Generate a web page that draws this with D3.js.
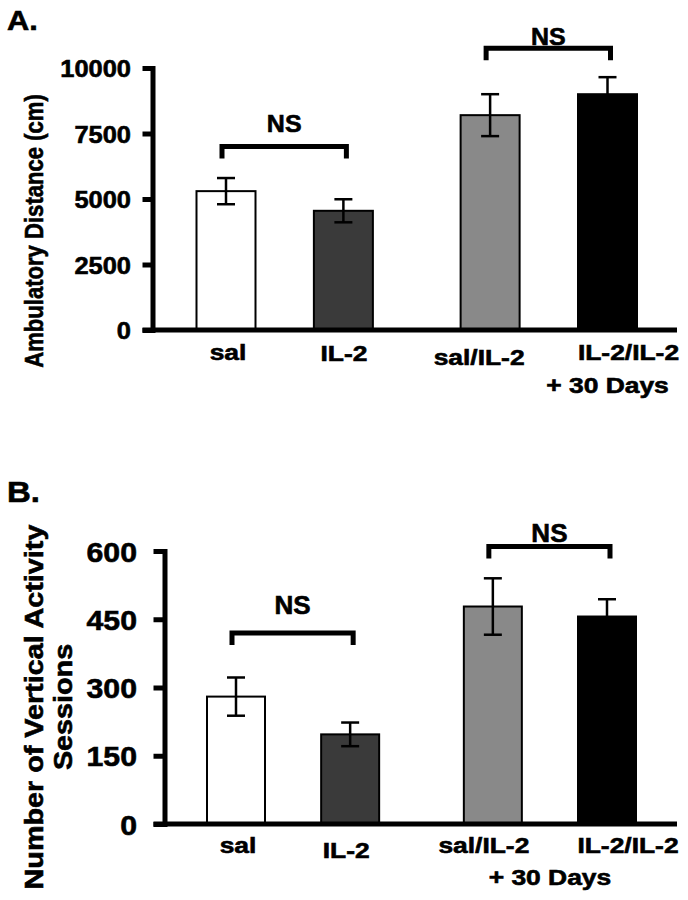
<!DOCTYPE html>
<html>
<head>
<meta charset="utf-8">
<script src="https://cdn.jsdelivr.net/npm/d3@7"></script>
<style>
  body { margin: 0; background: #fff; }
  text { font-family: "Liberation Sans", Arial, sans-serif; font-weight: bold; fill: #000; stroke: #000; stroke-width: 0.6px; }
</style>
</head>
<body>
<div class="chart"></div>
<script>
// datos
var categories = ["sal", "IL-2", "sal/IL-2", "IL-2/IL-2"];
var groupOf = [0, 0, 1, 1];           // dos bloques de barras
var nsPairs = [[0, 1], [2, 3]];

// A. distancia ambulatoria (cm)
var distanceMean = [5300, 4550, 8200, 9000];
var distanceErr  = [500, 440, 800, 650];
var distanceTicks = [0, 2500, 5000, 7500, 10000];
var distanceNS = [7000, 10750];       // altura de los corchetes NS

// B. sesiones de actividad vertical
var sessionsMean = [280, 197, 478, 456];
var sessionsErr  = [42, 26, 62, 38];
var sessionsTicks = [0, 150, 300, 450, 600];
var sessionsNS = [420, 610];

var color = d3.scaleOrdinal(categories, ["#ffffff", "#3a3a3a", "#898989", "#000000"]);
var gapExtra = 0.25;  // hueco extra entre los dos bloques

var svg = d3.select(".chart")
    .append("svg")
    .attr("width", 688)
    .attr("height", 900);

svg.append("rect").attr("width", 688).attr("height", 900).attr("fill", "#fff");

// texto ensanchado horizontalmente (la figura usa una negrita ancha)
function wideText(g, x, y, str, size, sx, anchor, rot) {
    return g.append("text")
        .attr("transform", "translate(" + x + "," + y + ")" + (rot ? " rotate(-90)" : "") + " scale(" + sx + ",1)")
        .attr("text-anchor", anchor || "middle")
        .attr("font-size", size)
        .text(str);
}

function drawPanel(p) {
    var g = svg.append("g");

    var y = d3.scaleLinear().domain([0, p.max]).range([p.base, p.top]);
    var slot = d3.scaleLinear().domain([0, 3 + gapExtra]).range([p.first, p.last]);
    var cx = function(i) { return slot(i + groupOf[i] * gapExtra); };

    // barras
    g.selectAll(".bar")
        .data(p.means)
      .enter()
        .append("rect")
        .attr("class", "bar")
        .attr("x", function(d, i) { return cx(i) - p.barW / 2; })
        .attr("y", function(d) { return y(d); })
        .attr("width", p.barW)
        .attr("height", function(d) { return y(0) - y(d); })
        .attr("fill", function(d, i) { return color(categories[i]); })
        .attr("stroke", "#000")
        .attr("stroke-width", 2);

    // barras de error
    var eb = g.selectAll(".err")
        .data(p.means)
      .enter()
        .append("g")
        .attr("class", "err")
        .attr("stroke", "#000")
        .attr("stroke-width", 2.5);
    eb.append("line")
        .attr("x1", function(d, i) { return cx(i); })
        .attr("x2", function(d, i) { return cx(i); })
        .attr("y1", function(d, i) { return y(d + p.errs[i]); })
        .attr("y2", function(d, i) { return y(d - p.errs[i]); });
    [1, -1].forEach(function(s) {
        eb.append("line")
            .attr("x1", function(d, i) { return cx(i) - 9; })
            .attr("x2", function(d, i) { return cx(i) + 9; })
            .attr("y1", function(d, i) { return y(d + s * p.errs[i]); })
            .attr("y2", function(d, i) { return y(d + s * p.errs[i]); });
    });

    // eje y
    var yAxis = d3.axisLeft(y)
        .tickValues(p.ticks)
        .tickSize(p.tickLen)
        .tickSizeOuter(0)
        .tickFormat(d3.format("d"));
    var ag = g.append("g")
        .attr("class", "y axis")
        .attr("transform", "translate(" + p.axisX + ",0)")
        .call(yAxis)
        .attr("font-family", null)
        .attr("font-size", null);
    ag.select(".domain").attr("stroke-width", 5).attr("stroke-linecap", "square");
    ag.selectAll(".tick line").attr("stroke-width", 5);
    ag.selectAll(".tick text")
        .attr("x", null)
        .attr("dy", "0.36em")
        .attr("font-size", p.tickFont)
        .attr("text-anchor", "end")
        .attr("transform", "translate(" + (-p.labelGap) + ",0) scale(" + p.tickSx + ",1)");

    // línea base
    g.append("line")
        .attr("x1", p.axisX - p.tickLen)
        .attr("x2", 677)
        .attr("y1", y(0))
        .attr("y2", y(0))
        .attr("stroke", "#000")
        .attr("stroke-width", 5);

    // etiquetas del eje x
    categories.forEach(function(c, i) {
        wideText(g, cx(i) + p.catShift[i], p.catY[i], c, 22, 1.2);
    });
    var dx = p.daysUnderPair ? (cx(2) + cx(3)) / 2 : cx(3);
    wideText(g, dx, p.daysY, "+ 30 Days", 22, 1.2);

    // corchetes NS
    nsPairs.forEach(function(pair, k) {
        var x1 = cx(pair[0]) - 4, x2 = cx(pair[1]) + 3;
        var yy = y(p.ns[k]);
        g.append("path")
            .attr("d", "M" + x1 + "," + (yy + 12) + "V" + yy + "H" + x2 + "V" + (yy + 12))
            .attr("fill", "none")
            .attr("stroke", "#000")
            .attr("stroke-width", 5);
        wideText(g, (x1 + x2) / 2, yy - p.nsGap[k], "NS", p.nsFont, 1.04);
    });

    // título del eje y y letra del panel
    p.title.forEach(function(t, k) {
        wideText(g, p.titleX[k], p.titleY, t, p.titleFont, p.titleSx, "middle", true);
    });
    wideText(g, 7, p.letterY, p.letter, p.letterFont, 1.1, "start");
}

drawPanel({
    letter: "A.", letterY: 30, letterFont: 28,
    means: distanceMean, errs: distanceErr, ticks: distanceTicks, ns: distanceNS,
    max: 10000, base: 330, top: 68, first: 226, last: 607.5, barW: 59,
    axisX: 152.5, tickLen: 10, labelGap: 21.5, tickFont: 24, tickSx: 1.06,
    catShift: [2, 0.5, -11, 21], catY: [360, 361, 365, 360], daysY: 393, daysUnderPair: false,
    nsGap: [15, 3], nsFont: 24,
    title: ["Ambulatory Distance (cm)"], titleX: [43], titleY: 231, titleFont: 26, titleSx: 0.85
});

drawPanel({
    letter: "B.", letterY: 502, letterFont: 30,
    means: sessionsMean, errs: sessionsErr, ticks: sessionsTicks, ns: sessionsNS,
    max: 600, base: 824, top: 551, first: 236, last: 607, barW: 58,
    axisX: 164.5, tickLen: 11, labelGap: 27.5, tickFont: 28, tickSx: 1.08,
    catShift: [2, -4, -9, 21], catY: [853, 858, 853, 853], daysY: 885, daysUnderPair: true,
    nsGap: [19, 4], nsFont: 25,
    title: ["Number of Vertical Activity", "Sessions"], titleX: [43, 72], titleY: 707, titleFont: 25, titleSx: 1.15
});
</script>
</body>
</html>
